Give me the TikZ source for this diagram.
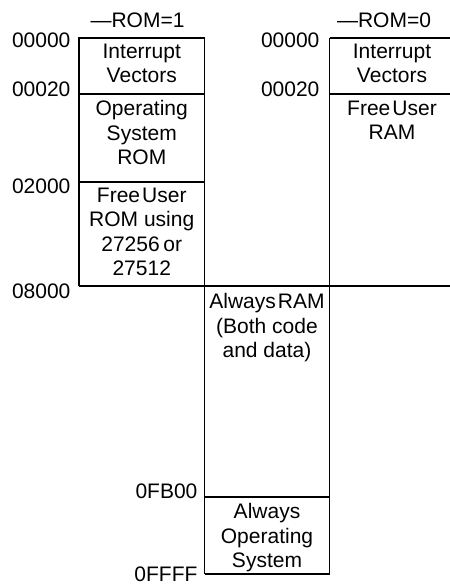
\documentclass[tikz,border=0pt]{standalone}
\usepackage{fontspec}
\setmainfont{Liberation Sans}
\newcommand{\tsp}{\hspace{0.1em}}
\begin{document}
\begin{tikzpicture}[x=1bp,y=-1bp,line width=1.2bp,
  boxtext/.style={anchor=north,align=center,inner sep=0pt,font=\fontsize{21bp}{24.5bp}\selectfont},
  addr/.style={anchor=base east,inner sep=0pt,font=\fontsize{21bp}{24.5bp}\selectfont},
  title/.style={anchor=base,inner sep=0pt,font=\fontsize{21bp}{24.5bp}\selectfont}]
\useasboundingbox (0,0) rectangle (450,586);
% left column (ROM=1)
\draw (79,286) -- (79,38) -- (204.5,38);
\draw (79,94) -- (204.5,94);
\draw (79,182) -- (204.5,182);
% shared vertical lines
\draw (204.5,38) -- (204.5,574);
\draw (329.5,38) -- (329.5,574);
% right column (ROM=0)
\draw (329.5,38) -- (450,38);
\draw (329.5,94) -- (450,94);
% 08000 line across
\draw (79,286) -- (450,286);
% lower part
\draw (204.5,497) -- (329.5,497);
\draw (204.5,574) -- (329.5,574);
% titles
\node[title] (t1) at (137.5,28) {\textemdash ROM=1};
\node[title] (t0) at (384,28) {\textemdash ROM=0};
% left addresses
\node[addr] (a1) at (71,48) {00000};
\node[addr] (a2) at (71,97) {00020};
\node[addr] (a3) at (71,193) {02000};
\node[addr] (a4) at (71,298) {08000};
% right addresses
\node[addr] (b1) at (320,48) {00000};
\node[addr] (b2) at (320,97) {00020};
% middle addresses
\node[addr] (c1) at (198,498) {0FB00};
\node[addr] (c2) at (198,581) {0FFFF};
% box texts
\node[boxtext] (iv1) at (141.75,43) {Interrupt\\Vectors};
\node[boxtext] (os1) at (141.75,100) {Operating\\System\\ROM};
\node[boxtext] (fu1) at (141.75,187) {Free\tsp User\\ROM using\\27256\hspace{0.18em}or\\27512};
\node[boxtext] (iv0) at (392,43) {Interrupt\\Vectors};
\node[boxtext] (fu0) at (392,100) {Free\tsp User\\RAM};
\node[boxtext] (ram) at (267,293) {Always\tsp RAM\\(Both code\\and data)};
\node[boxtext] (aos) at (267,503) {Always\\Operating\\System};
\end{tikzpicture}
\end{document}
